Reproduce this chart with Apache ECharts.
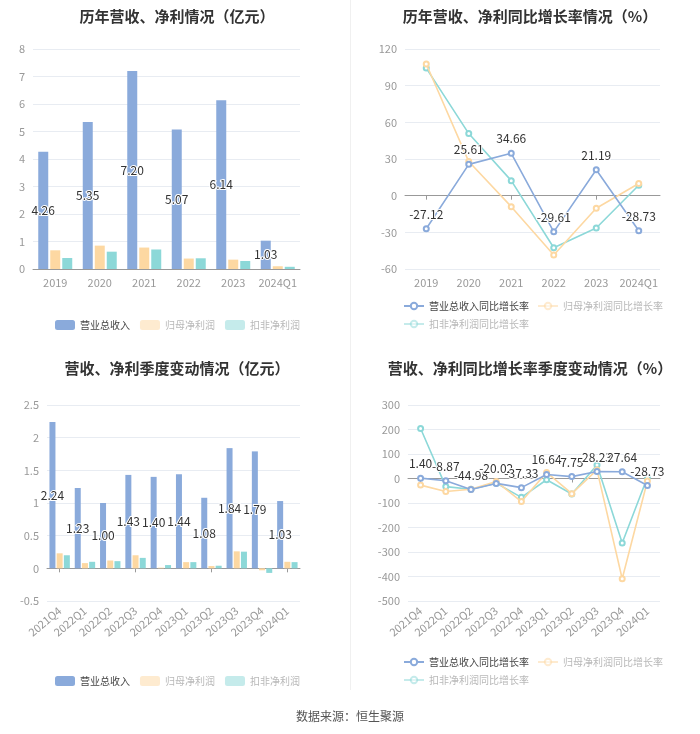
<!DOCTYPE html>
<html>
<head>
<meta charset="utf-8">
<script src="https://cdn.jsdelivr.net/npm/echarts@6/dist/echarts.min.js"></script>
<style>
    html, body { margin: 0; padding: 0; background: #fff; }
    #main { width: 700px; height: 734px; }
</style>
</head>
<body>
<div id="main"></div>
<script>
    // 年度数据
    var years = ['2019', '2020', '2021', '2022', '2023', '2024Q1'];
    var revenue = [4.26, 5.35, 7.20, 5.07, 6.14, 1.03];
    var netProfit = [0.68, 0.85, 0.78, 0.38, 0.34, 0.10];
    var deductedProfit = [0.40, 0.63, 0.71, 0.39, 0.29, 0.08];
    var revenueYoy = [-27.12, 25.61, 34.66, -29.61, 21.19, -28.73];
    var netProfitYoy = [107.7, 27.9, -9.0, -48.6, -10.3, 10.0];
    var deductedYoy = [104.4, 50.8, 12.3, -42.6, -26.5, 8.5];

    // 季度数据
    var quarters = ['2021Q4', '2022Q1', '2022Q2', '2022Q3', '2022Q4', '2023Q1', '2023Q2', '2023Q3', '2023Q4', '2024Q1'];
    var qRevenue = [2.24, 1.23, 1.00, 1.43, 1.40, 1.44, 1.08, 1.84, 1.79, 1.03];
    var qNetProfit = [0.23, 0.08, 0.12, 0.20, 0.01, 0.095, 0.035, 0.26, -0.03, 0.10];
    var qDeducted = [0.20, 0.10, 0.11, 0.16, 0.05, 0.095, 0.04, 0.255, -0.07, 0.095];
    var qRevenueYoy = [1.40, -8.87, -44.98, -20.02, -37.33, 16.64, 7.75, 28.23, 27.64, -28.73];
    var qNetProfitYoy = [-27, -53, -44, -12, -94, 25, -62, 35, -409, -10];
    var qDeductedYoy = [204, -33, -44, -19, -77, -5, -63, 55, -263, 5];

    var barNames = ['营业总收入', '归母净利润', '扣非净利润'];
    var lineNames = ['营业总收入同比增长率', '归母净利润同比增长率', '扣非净利润同比增长率'];

    var BLUE = '#8aaadb', YELLOW = '#fdd8a2', CYAN = '#8cd8d8';
    var FONT = '"Noto Sans CJK SC", "Noto Sans", sans-serif';

    var chart = echarts.init(document.getElementById('main'));

    function title(text, x, y) {
        return {
            text: text, left: x, top: y, textAlign: 'center',
            textStyle: { fontSize: 15, fontWeight: 'bold', color: '#333', fontFamily: FONT }
        };
    }

    function legendItems(names) {
        return names.map(function (n, i) {
            return {
                name: n,
                textStyle: { color: i === 0 ? '#444' : '#b8b8b8' },
                itemStyle: { opacity: i === 0 ? 1 : 0.5 },
                lineStyle: { opacity: i === 0 ? 1 : 0.5 }
            };
        });
    }

    function yAxis(grid, min, max, interval) {
        return {
            type: 'value', gridIndex: grid, min: min, max: max, interval: interval,
            axisLine: { show: false }, axisTick: { show: false },
            axisLabel: { color: '#999', fontSize: 11, margin: 8 },
            splitLine: { lineStyle: { color: '#e8ecf2' } }
        };
    }

    // 标签在底部，零轴线单独画一条
    function xAxes(grid, data, rotate) {
        return [{
            type: 'category', gridIndex: grid, data: data, position: 'bottom',
            axisLine: { show: grid === 0, onZero: false, lineStyle: { color: '#999' } },
            axisTick: { show: false },
            axisLabel: { color: '#999', fontSize: 11, rotate: rotate, margin: 8, interval: 0 }
        }, {
            type: 'category', gridIndex: grid, data: data, position: 'bottom',
            show: grid !== 0,
            axisLine: { onZero: true, lineStyle: { color: '#999' } },
            axisTick: { show: true, alignWithLabel: true, length: 4, lineStyle: { color: '#999' } },
            axisLabel: { show: false }
        }];
    }

    function barLabel() {
        return {
            show: true, position: 'inside', color: '#333', fontSize: 12,
            textBorderColor: '#fff', textBorderWidth: 2,
            formatter: function (p) { return p.value.toFixed(2); }
        };
    }

    function lineLabel() {
        return {
            show: true, position: 'top', color: '#333', fontSize: 12,
            textBorderColor: '#fff', textBorderWidth: 2,
            formatter: function (p) { return p.value.toFixed(2); }
        };
    }

    function bars(gridAxis, values, width) {
        var colors = [BLUE, YELLOW, CYAN];
        return values.map(function (v, i) {
            return {
                name: barNames[i], type: 'bar', xAxisIndex: gridAxis, yAxisIndex: gridAxis / 2,
                data: v, barWidth: width, barGap: '20%', itemStyle: { color: colors[i] },
                label: i === 0 ? barLabel() : { show: false }
            };
        });
    }

    function lines(gridAxis, values) {
        var colors = [BLUE, YELLOW, CYAN];
        return values.map(function (v, i) {
            return {
                name: lineNames[i], type: 'line', xAxisIndex: gridAxis, yAxisIndex: gridAxis / 2,
                data: v, symbol: 'emptyCircle', symbolSize: 5, z: 3 - i,
                itemStyle: { color: colors[i] }, lineStyle: { color: colors[i], width: 1.6 },
                label: i === 0 ? lineLabel() : { show: false }
            };
        });
    }

    var barLegend = { itemWidth: 20, itemHeight: 10, itemGap: 10, icon: 'roundRect', textStyle: { fontSize: 10 } };
    var lineLegend = { width: 280, itemWidth: 20, itemHeight: 8, itemGap: 8, textStyle: { fontSize: 10 } };

    chart.setOption({
        animation: false,
        textStyle: { fontFamily: FONT },
        title: [
            title('历年营收、净利情况（亿元）', 172, 4),
            title('历年营收、净利同比增长率情况（%）', 525, 4),
            title('营收、净利季度变动情况（亿元）', 172, 356),
            title('营收、净利同比增长率季度变动情况（%）', 525, 356)
        ],
        legend: [
            Object.assign({ data: legendItems(barNames), left: 50, top: 315 }, barLegend),
            Object.assign({ data: legendItems(lineNames), left: 398, top: 296 }, lineLegend),
            Object.assign({ data: legendItems(barNames), left: 50, top: 671 }, barLegend),
            Object.assign({ data: legendItems(lineNames), left: 398, top: 652 }, lineLegend)
        ],
        grid: [
            { left: 33, top: 49, width: 267, height: 220 },
            { left: 405, top: 49, width: 255, height: 220 },
            { left: 47, top: 405, width: 253, height: 196 },
            { left: 408, top: 405, width: 252, height: 196 }
        ],
        xAxis: [].concat(
            xAxes(0, years, 0),
            xAxes(1, years, 0),
            xAxes(2, quarters, 40),
            xAxes(3, quarters, 40)
        ),
        yAxis: [
            yAxis(0, 0, 8, 1),
            yAxis(1, -60, 120, 30),
            yAxis(2, -0.5, 2.5, 0.5),
            yAxis(3, -500, 300, 100)
        ],
        series: [].concat(
            bars(0, [revenue, netProfit, deductedProfit], 10),
            lines(2, [revenueYoy, netProfitYoy, deductedYoy]),
            bars(4, [qRevenue, qNetProfit, qDeducted], 6),
            lines(6, [qRevenueYoy, qNetProfitYoy, qDeductedYoy])
        ),
        graphic: [
            { type: 'line', shape: { x1: 350.5, y1: 0, x2: 350.5, y2: 690 }, style: { stroke: '#f0f0f0', lineWidth: 1 } },
            { type: 'text', left: 'center', top: 710, style: { text: '数据来源：恒生聚源', fill: '#555', fontSize: 12, fontFamily: FONT } }
        ]
    });
</script>
</body>
</html>
